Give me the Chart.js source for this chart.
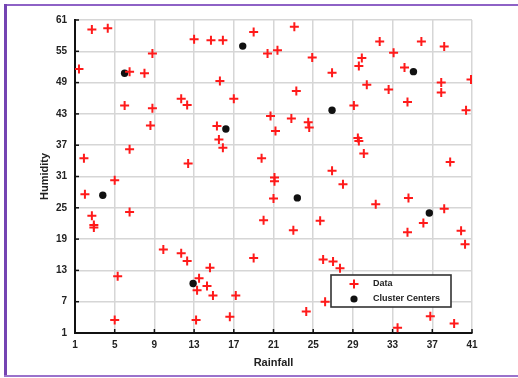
<!DOCTYPE html>
<html><head><meta charset="utf-8">
<script src="https://cdn.jsdelivr.net/npm/chart.js@4.4.1/dist/chart.umd.min.js"></script>
<style>
html,body{margin:0;padding:0;background:#fff;}
#wrap{position:relative;width:518px;height:378px;overflow:hidden;background:#fff;}
canvas{position:absolute;left:0;top:0;}
#bt{position:absolute;left:4px;top:4px;width:514px;height:2px;background:#8e62c6;}
#bl{position:absolute;left:4px;top:4px;width:3px;height:373px;background:#7444b2;}
#bb{position:absolute;left:4px;top:375px;width:514px;height:2px;background:#9a72cc;}
</style></head><body>
<div id="wrap"><canvas id="c" width="518" height="378"></canvas><div id="bt"></div><div id="bl"></div><div id="bb"></div></div>
<script>
const rainfall = [2.7,4.3,1.4,8.8,6.5,8.0,6.0,8.8,8.6,1.9,6.5,5.0,13.0,14.7,15.9,19.0,15.6,11.7,12.3,17.0,15.3,15.5,15.9,12.4,19.8,23.1,20.4,21.4,24.9,31.7,35.9,38.2,33.1,29.9,29.6,34.2,26.9,37.9,37.9,40.9,23.3,30.4,32.6,34.5,40.4,29.1,20.7,22.8,24.5,24.6,21.2,29.5,29.6,30.1,38.8,26.9,21.1,21.1,28.0,2.0,2.7,2.9,2.9,6.5,9.9,11.7,12.3,14.6,13.5,13.3,14.3,14.9,17.2,5.3,5.0,13.2,16.6,19.0,21.0,20.0,23.0,25.7,26.0,27.0,27.7,26.2,24.3,31.3,34.6,38.2,36.1,34.5,39.9,40.3,36.8,39.2,33.5];
const humidity = [59.2,59.4,51.6,54.6,51.1,50.8,44.6,44.1,40.8,34.5,36.2,30.3,57.3,57.1,57.1,58.7,49.3,45.9,44.7,45.9,40.7,38.1,36.5,33.5,34.5,59.7,54.6,55.2,53.8,56.9,56.9,55.9,54.7,53.7,52.2,51.9,50.9,49.0,47.1,49.6,47.4,48.6,47.7,45.3,43.7,44.6,42.6,42.1,41.4,40.4,39.7,38.4,37.8,35.4,33.8,32.1,30.8,30.1,29.5,27.6,23.5,21.7,21.2,24.2,17.0,16.3,14.8,13.5,11.5,9.2,10.0,8.2,8.2,11.9,3.5,3.5,4.1,15.4,26.8,22.6,20.7,22.5,15.1,14.7,13.4,7.0,5.1,25.7,26.9,24.8,22.1,20.3,20.6,18.0,4.2,2.8,2.0];
const centerRainfall = [6.0,17.9,16.2,26.9,35.1,3.8,23.4,36.7,12.9];
const centerHumidity = [50.8,56.0,40.1,43.7,51.1,27.4,26.9,24.0,10.5];
const xTicks = [1,5,9,13,17,21,25,29,33,37,41];
const yTicks = [1,7,13,19,25,31,37,43,49,55,61];
const seriesNames = ['Data','Cluster Centers'];
const axisTitles = {x:'Rainfall', y:'Humidity'};

const dataPts = rainfall.map((x,i)=>({x:x,y:humidity[i]}));
const centerPts = centerRainfall.map((x,i)=>({x:x,y:centerHumidity[i]}));
const FONT = '"Liberation Sans", Arial, sans-serif';

const innerTicks = {
  id:'innerTicks',
  afterDraw(chart){
    const ctx = chart.ctx, xs = chart.scales.x, ys = chart.scales.y;
    const a = chart.chartArea;
    ctx.save();
    ctx.strokeStyle = '#111'; ctx.lineWidth = 1.5;
    xTicks.forEach(v=>{const px = xs.getPixelForValue(v); ctx.beginPath(); ctx.moveTo(px,a.bottom); ctx.lineTo(px,a.bottom-4); ctx.stroke();});
    yTicks.forEach(v=>{const py = ys.getPixelForValue(v); ctx.beginPath(); ctx.moveTo(a.left,py); ctx.lineTo(a.left+4,py); ctx.stroke();});
    // legend box
    const bx=331, by=275, bw=120, bh=32;
    ctx.fillStyle='#fff'; ctx.fillRect(bx,by,bw,bh);
    ctx.strokeStyle='#333'; ctx.lineWidth=1.6; ctx.strokeRect(bx,by,bw,bh);
    const ds = chart.data.datasets;
    ctx.strokeStyle = ds[0].borderColor; ctx.lineWidth = 2;
    ctx.beginPath(); ctx.moveTo(349.5,284); ctx.lineTo(358.5,284); ctx.moveTo(354,279.5); ctx.lineTo(354,288.5); ctx.stroke();
    ctx.fillStyle = ds[1].backgroundColor;
    ctx.beginPath(); ctx.arc(354,299,3.6,0,Math.PI*2); ctx.fill();
    ctx.fillStyle='#222'; ctx.font='bold 9px ' + FONT; ctx.textBaseline='middle'; ctx.textAlign='left';
    ctx.fillText(seriesNames[0],373,284);
    ctx.fillText(seriesNames[1],373,299);
    ctx.restore();
  }
};

new Chart(document.getElementById('c'), {
  type:'scatter',
  data:{datasets:[
    {label:seriesNames[0], data:dataPts, pointStyle:'cross', pointRadius:4.5, borderColor:'#ff1a1a', backgroundColor:'#ff1a1a', pointBorderWidth:2, pointHoverRadius:4.5},
    {label:seriesNames[1], data:centerPts, pointStyle:'circle', pointRadius:3.7, borderColor:'#111', backgroundColor:'#111', pointBorderWidth:0, pointHoverRadius:3.7}
  ]},
  options:{
    responsive:false, animation:false, devicePixelRatio:1,
    layout:{padding:{top:20,right:46,bottom:0,left:0}},
    plugins:{legend:{display:false}, tooltip:{enabled:false}},
    scales:{
      x:{type:'linear', min:1, max:41, afterFit(s){s.height=45;},
        afterBuildTicks(s){s.ticks = xTicks.map(v=>({value:v}));},
        grid:{color:'#d6d6d6', lineWidth:1.5, drawTicks:false},
        border:{color:'#111', width:2},
        ticks:{padding:6, color:'#222', font:{size:10, weight:'bold', family:FONT}, maxRotation:0},
        title:{display:true, text:axisTitles.x, color:'#222', font:{size:11, weight:'bold', family:FONT}, padding:{top:0,bottom:8}}
      },
      y:{type:'linear', min:1, max:61, afterFit(s){s.width=75;},
        afterBuildTicks(s){s.ticks = yTicks.map(v=>({value:v}));},
        grid:{color:'#d6d6d6', lineWidth:1.5, drawTicks:false},
        border:{color:'#111', width:2},
        ticks:{padding:8, color:'#222', font:{size:10, weight:'bold', family:FONT}},
        title:{display:true, text:axisTitles.y, color:'#222', font:{size:11, weight:'bold', family:FONT}, padding:{top:38,bottom:0}}
      }
    }
  },
  plugins:[innerTicks]
});
</script>
</body></html>
